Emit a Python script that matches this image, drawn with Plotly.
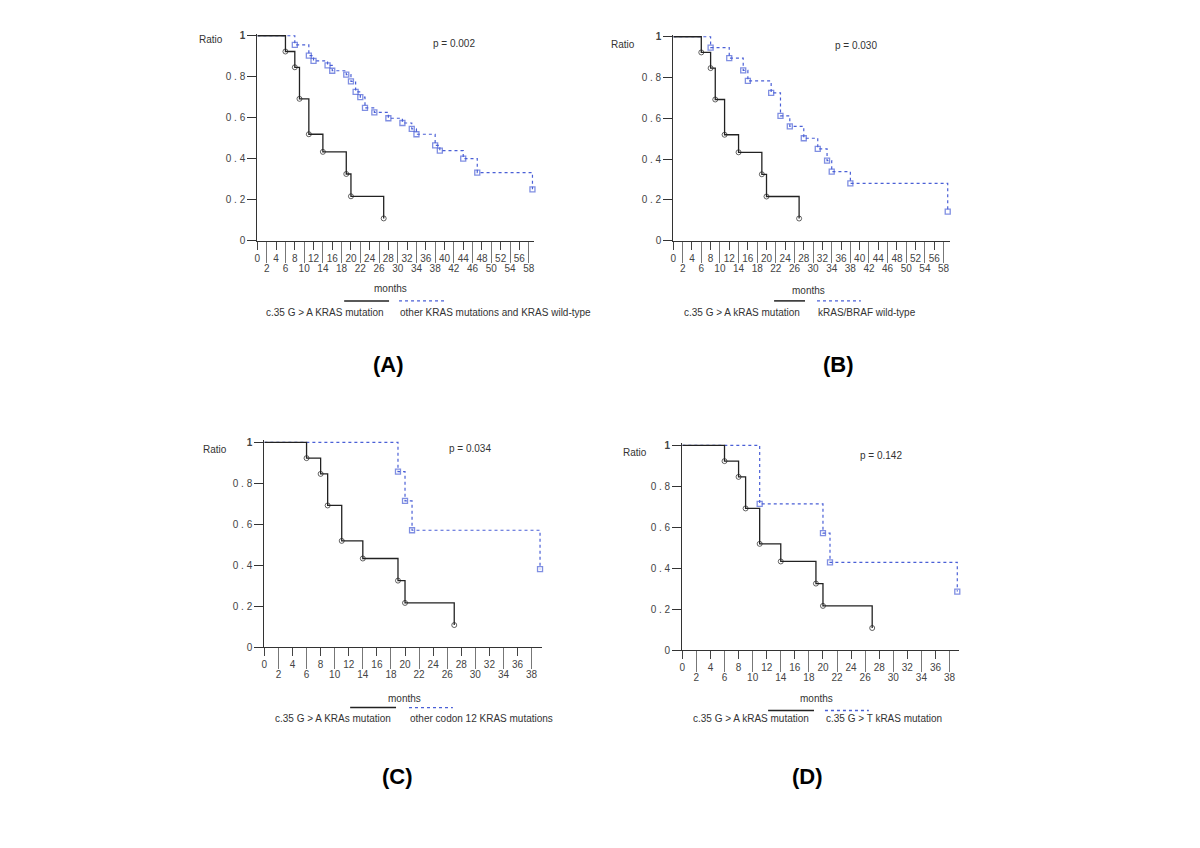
import plotly.graph_objects as go

W, H = 1200, 848

# c.35 G > A KRAS mutation (same curve in every panel)
months_ga = [0, 6, 8, 9, 11, 14, 19, 20, 27]
ratio_ga = [1, 0.923, 0.846, 0.692, 0.519, 0.433, 0.325, 0.216, 0.108]

# (A) other KRAS mutations and KRAS wild-type
months_a = [0, 8, 11, 12, 15, 16, 19, 20, 21, 22, 23, 25, 28, 31, 33, 34, 38, 39, 44, 47, 58.8]
ratio_a = [1, 0.955, 0.903, 0.877, 0.855, 0.829, 0.81, 0.777, 0.726, 0.70, 0.648, 0.626,
           0.597, 0.574, 0.545, 0.519, 0.465, 0.439, 0.40, 0.332, 0.25]

# (B) KRAS/BRAF wild-type
months_b = [0, 8, 12, 15, 16, 21, 23, 25, 28, 31, 33, 34, 38, 58.9]
ratio_b = [1, 0.947, 0.895, 0.835, 0.783, 0.725, 0.612, 0.56, 0.502, 0.45, 0.392, 0.338, 0.28, 0.142]

# (C) other codon 12 KRAS mutations
months_c = [0, 19, 20, 21, 39.2]
ratio_c = [1, 0.857, 0.714, 0.571, 0.381]

# (D) c.35 G > T KRAS mutation
months_d = [0, 11, 20, 21, 39.1]
ratio_d = [1, 0.714, 0.571, 0.429, 0.286]

y_ticks = [0, 0.2, 0.4, 0.6, 0.8, 1]
y_tick_text = ['0', '0 . 2', '0 . 4', '0 . 6', '0 . 8', '<b>1</b>']

p_values = ['p = 0.002', 'p = 0.030', 'p = 0.034', 'p = 0.142']
panel_labels = ['(A)', '(B)', '(C)', '(D)']
ga_label = ['c.35 G > A KRAS mutation', 'c.35 G > A kRAS mutation',
            'c.35 G > A KRAs mutation', 'c.35 G > A kRAS mutation']
other_label = ['other KRAS mutations and KRAS wild-type', 'kRAS/BRAF wild-type',
               'other codon 12 KRAS mutations', 'c.35 G > T kRAS mutation']
other_months = [months_a, months_b, months_c, months_d]
other_ratio = [ratio_a, ratio_b, ratio_c, ratio_d]
tick_max = [58, 58, 38, 38]

BLACK = '#222222'
BLUE = '#4a5fd6'
FONT = 'Liberation Sans'
OFF = 8  # page body margin


def px(x):
    return (x - OFF) / W


def py(y):
    return 1 - (y - OFF) / H


# pixel geometry of each panel: x origin, px per month, x max, y of value 1, y of value 0
geom = [
    dict(x0=255, ppm=4.69, xmax=59.2, y1=33, y0=240),
    dict(x0=672, ppm=4.67, xmax=59.3, y1=34, y0=240),
    dict(x0=262, ppm=7.05, xmax=39.5, y1=444, y0=651),
    dict(x0=681, ppm=7.05, xmax=39.4, y1=447, y0=654),
]

# text placement (pixels)
ratio_pos = [(208, 37), (622, 42), (213, 451), (634, 454)]
p_pos = [(452, 41), (855, 43), (468, 450), (880, 457)]
months_pos = [(388, 288), (807, 290), (402, 703), (816, 703)]
legend_y = [(301, 313), (301, 313), (712, 723), (715, 723)]
legend_black = [(342, 387), (773, 804), (348, 394), (767, 813)]
legend_blue = [(397, 444), (816, 860), (407, 451), (824, 868)]
label_pos = [(386, 365), (838, 365), (395, 782), (806, 782)]

fig = go.Figure()
layout = dict(width=W, height=H, margin=dict(l=0, r=0, t=0, b=0),
              paper_bgcolor='white', plot_bgcolor='white', showlegend=False,
              font=dict(family=FONT, size=10, color='#333'))
annotations = []
shapes = []


def note(text, x, y, anchor='center', size=10, color='#333'):
    return dict(text=text, x=px(x), y=py(y), xref='paper', yref='paper',
                xanchor=anchor, yanchor='middle', showarrow=False,
                font=dict(size=size, color=color, family=FONT))


for i, g in enumerate(geom):
    n = '' if i == 0 else str(i + 1)
    n2 = str(i + 5)  # overlay axis carrying the lower row of month labels
    xa, ya, xb = 'x' + n, 'y' + n, 'x' + n2

    # curves
    fig.add_trace(go.Scatter(
        x=other_months[i], y=other_ratio[i], xaxis=xa, yaxis=ya,
        mode='lines+markers', line_shape='hv',
        line=dict(color=BLUE, width=1.2, dash='dot'),
        marker=dict(symbol='square-open', color=BLUE, line=dict(width=1.3),
                    size=[0] + [5] * (len(other_months[i]) - 1)),
        cliponaxis=False, name=other_label[i]))
    fig.add_trace(go.Scatter(
        x=months_ga, y=ratio_ga, xaxis=xb, yaxis=ya,
        mode='lines+markers', line_shape='hv',
        line=dict(color=BLACK, width=1.3),
        marker=dict(symbol='circle-open', color=BLACK, line=dict(width=1),
                    size=[0] + [5] * (len(months_ga) - 1)),
        cliponaxis=False, name=ga_label[i]))

    upper = list(range(0, tick_max[i] + 1, 4))
    lower = list(range(2, tick_max[i] + 1, 4))
    top = g['y1'] - 0.01 * (g['y0'] - g['y1'])
    common = dict(range=[0, g['xmax']], anchor=ya, tickangle=0, ticks='outside',
                  tickwidth=1, showgrid=False, zeroline=False, fixedrange=True,
                  tickfont=dict(size=10, color='#444'))
    layout['xaxis' + n] = dict(
        domain=[px(g['x0']), px(g['x0'] + g['xmax'] * g['ppm'])],
        tickvals=upper, ticktext=[str(v) for v in upper], ticklen=8, tickcolor='#444',
        showline=True, linecolor='#333', linewidth=1.3, **common)
    layout['xaxis' + n2] = dict(
        overlaying=xa, tickvals=lower, ticktext=[str(v) for v in lower], ticklen=21,
        tickcolor='#777', ticklabelstandoff=-3, showline=False, **common)
    layout['yaxis' + n] = dict(
        domain=[py(g['y0']), py(top)], range=[0, 1.01], anchor=xa,
        tickvals=y_ticks, ticktext=y_tick_text, ticks='outside', ticklen=9,
        tickcolor='#333', tickwidth=1.2,
        showline=True, linecolor='#333', linewidth=1.3, showgrid=False, zeroline=False,
        tickfont=dict(size=10, color='#444'), fixedrange=True)

    # labels around the panel
    annotations += [
        note('Ratio', *ratio_pos[i]),
        note(p_values[i], *p_pos[i]),
        note('months', *months_pos[i]),
        note(ga_label[i], legend_black[i][1] - 3, legend_y[i][1], anchor='right'),
        note(other_label[i], legend_blue[i][0] - 1, legend_y[i][1], anchor='left'),
        note('<b>' + panel_labels[i] + '</b>', *label_pos[i], size=22, color='black'),
    ]
    shapes += [
        dict(type='line', xref='paper', yref='paper', x0=px(legend_black[i][0]),
             x1=px(legend_black[i][1]), y0=py(legend_y[i][0]), y1=py(legend_y[i][0]),
             line=dict(color=BLACK, width=1.5)),
        dict(type='line', xref='paper', yref='paper', x0=px(legend_blue[i][0]),
             x1=px(legend_blue[i][1]), y0=py(legend_y[i][0]), y1=py(legend_y[i][0]),
             line=dict(color=BLUE, width=1.3, dash='dot')),
    ]

layout['annotations'] = annotations
layout['shapes'] = shapes
fig.update_layout(**layout)
fig.write_html('out.html')
